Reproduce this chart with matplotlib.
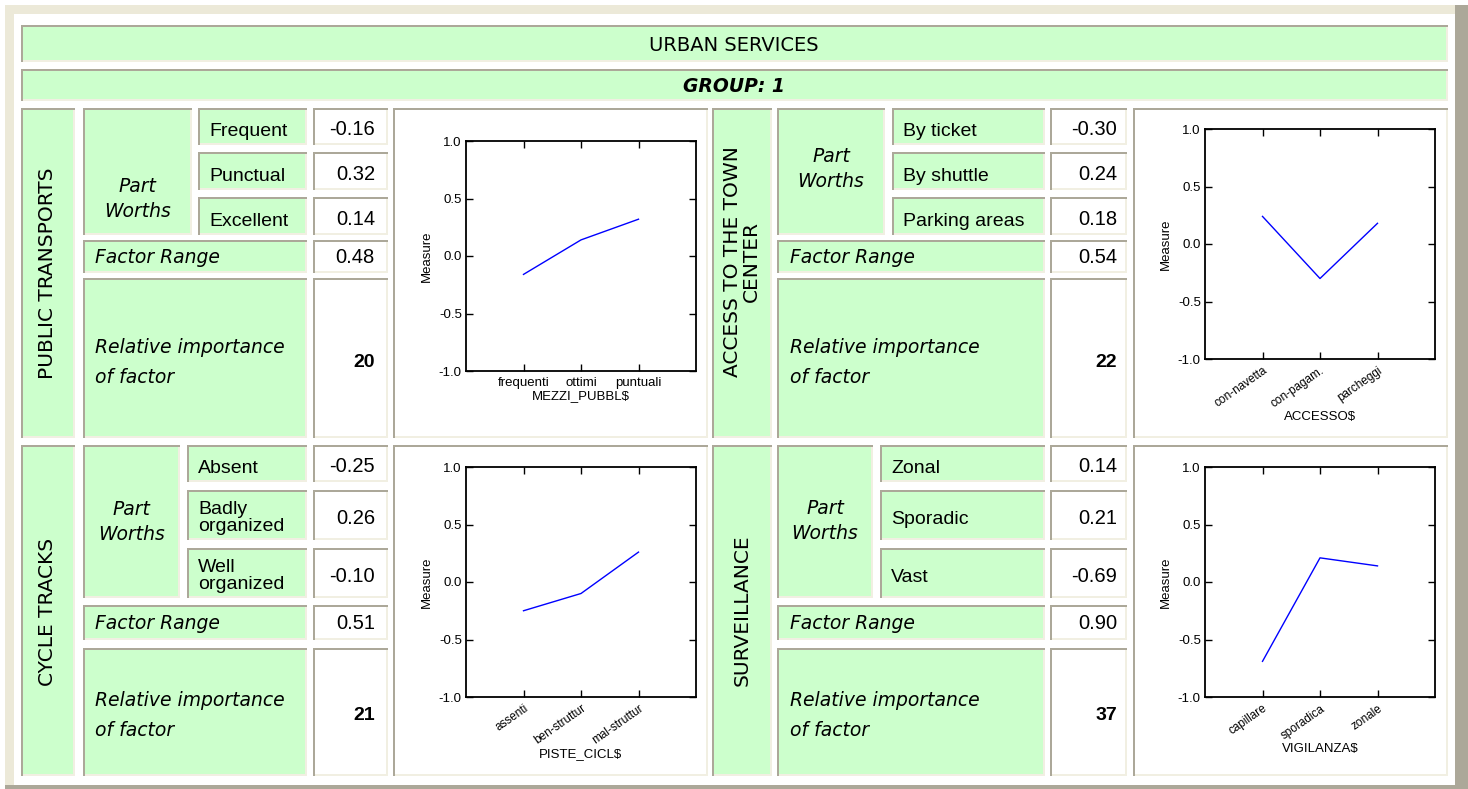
import matplotlib
matplotlib.use("Agg")
import matplotlib.pyplot as plt
from matplotlib.patches import Rectangle
from matplotlib.ticker import FormatStrFormatter

plt.rcParams['axes.unicode_minus'] = False

# ---------------- data ----------------
title = "URBAN SERVICES"
group = "GROUP: 1"
factors = ["PUBLIC TRANSPORTS", "ACCESS TO THE TOWN\nCENTER", "CYCLE TRACKS", "SURVEILLANCE"]
level_labels = [["Frequent", "Punctual", "Excellent"],
                ["By ticket", "By shuttle", "Parking areas"],
                ["Absent", "Badly\norganized", "Well\norganized"],
                ["Zonal", "Sporadic", "Vast"]]
part_worths = [[-0.16, 0.32, 0.14],
               [-0.30, 0.24, 0.18],
               [-0.25, 0.26, -0.10],
               [0.14, 0.21, -0.69]]
factor_range = [0.48, 0.54, 0.51, 0.90]
rel_importance = [20, 22, 21, 37]
chart_var = ["MEZZI_PUBBL$", "ACCESSO$", "PISTE_CICL$", "VIGILANZA$"]
chart_cats = [["frequenti", "ottimi", "puntuali"],
              ["con-navetta", "con-pagam.", "parcheggi"],
              ["assenti", "ben-struttur", "mal-struttur"],
              ["capillare", "sporadica", "zonale"]]
chart_vals = [[-0.16, 0.14, 0.32],
              [0.24, -0.30, 0.18],
              [-0.25, -0.10, 0.26],
              [-0.69, 0.21, 0.14]]
yticks = [-1.0, -0.5, 0.0, 0.5, 1.0]

# ---------------- style ----------------
GREEN = '#CCFFCC'
GRAY = '#ACA899'
LIGHT = '#F1EFE2'
BEIGE = '#ECE9D8'
COMIC = 'DejaVu Sans'
ARIAL = 'Liberation Sans'

W, H = 1468, 789
fig = plt.figure(figsize=(W / 100, H / 100), dpi=100)
fig.patch.set_facecolor('white')
bg = fig.add_axes([0, 0, 1, 1])
bg.set_xlim(0, W)
bg.set_ylim(H, 0)
bg.axis('off')
PX = 0.72  # points per pixel


def rect(x0, y0, x1, y1, color):
    bg.add_patch(Rectangle((x0, y0), x1 - x0, y1 - y0, facecolor=color,
                           edgecolor='none', zorder=1))


def cell(x0, y0, x1, y1, fill=GREEN):
    rect(x0, y0, x1, y1, fill)
    kw = dict(lw=2 * PX, solid_capstyle='butt', zorder=2)
    bg.plot([x0, x1], [y1 - 1, y1 - 1], color=LIGHT, **kw)
    bg.plot([x1 - 1, x1 - 1], [y0, y1], color=LIGHT, **kw)
    bg.plot([x0, x1], [y0 + 1, y0 + 1], color=GRAY, **kw)
    bg.plot([x0 + 1, x0 + 1], [y0, y1], color=GRAY, **kw)


def txt(x, y, s, family=ARIAL, size=14, ha='left', **kw):
    bg.text(x, y, s, family=family, fontsize=size, ha=ha, va='center',
            zorder=3, **kw)


# outer frame
rect(5, 5, W, H, BEIGE)
rect(1455, 5, W, H, GRAY)
rect(5, 785, W, H, GRAY)
rect(14, 14, 1455, 785, 'white')

# header bars
cell(21, 25, 1448, 62)
txt(734, 45, title, family=COMIC, size=14, ha='center')
cell(21, 69, 1448, 101)
txt(734, 86, group, family=COMIC, size=13.5, ha='center',
    fontweight='bold', style='italic')

# layout of the four blocks
colsets = [dict(A=(21, 75), D=(313, 388), E=(393, 708), xl=95, xv=375, xa=48),
           dict(A=(712, 772), D=(1050, 1127), E=(1133, 1448), xl=790, xv=1117, xa=742)]
bc = {(0, 0): ((83, 192), (198, 307)), (0, 1): ((777, 885), (892, 1045)),
      (1, 0): ((83, 180), (187, 307)), (1, 1): ((777, 873), (880, 1045))}
rowsets = [dict(top=108, levels=[(108, 145), (152, 190), (197, 235)],
                fr=(240, 273), ri=(278, 438), bottom=438),
           dict(top=445, levels=[(445, 482), (490, 540), (548, 598)],
                fr=(605, 640), ri=(648, 776), bottom=776)]
pw_y = {(0, 0): 199, (0, 1): 169, (1, 0): 522, (1, 1): 521}
fac_y = {(0, 0): 273, (0, 1): 262, (1, 0): 612, (1, 1): 610}
chart_box = {(0, 0): (466, 141, 696, 371), (0, 1): (1205, 129, 1435, 359),
             (1, 0): (466, 467, 696, 697), (1, 1): (1205, 467, 1435, 697)}

for k in range(4):
    r, c = divmod(k, 2)
    cs, rs = colsets[c], rowsets[r]
    B, C = bc[(r, c)]
    top, bot = rs['top'], rs['bottom']
    # factor name (vertical)
    cell(cs['A'][0], top, cs['A'][1], bot)
    txt(cs['xa'], fac_y[(r, c)], factors[k], family=COMIC, size=14.5,
        ha='center', rotation=90, multialignment='center', linespacing=1.0)
    # part worths
    cell(B[0], top, B[1], rs['levels'][-1][1])
    txt((B[0] + B[1]) / 2, pw_y[(r, c)], "Part\nWorths", family=COMIC, size=13.5,
        ha='center', style='italic', multialignment='center', linespacing=1.45)
    for i, (y0, y1) in enumerate(rs['levels']):
        cell(C[0], y0, C[1], y1)
        lab = level_labels[k][i]
        off = 3 if '\n' in lab else 5
        txt(C[0] + 11, (y0 + y1) / 2 + off, lab, size=14, linespacing=1.0)
        cell(cs['D'][0], y0, cs['D'][1], y1, 'white')
        txt(cs['xv'], (y0 + y1) / 2 + 3, f"{part_worths[k][i]:.2f}", size=14.5,
            ha='right')
    # factor range
    y0, y1 = rs['fr']
    cell(B[0], y0, C[1], y1)
    txt(cs['xl'], (y0 + y1) / 2 + 1, "Factor Range", family=COMIC, size=13.5,
        style='italic')
    cell(cs['D'][0], y0, cs['D'][1], y1, 'white')
    txt(cs['xv'], (y0 + y1) / 2 + 1, f"{factor_range[k]:.2f}", size=14.5, ha='right')
    # relative importance
    y0, y1 = rs['ri']
    cell(B[0], y0, C[1], y1)
    ym = (y0 + y1) / 2 + 4
    txt(cs['xl'], ym - 15, "Relative importance", family=COMIC, size=13.5,
        style='italic')
    txt(cs['xl'], ym + 15, "of factor", family=COMIC, size=13.5, style='italic')
    cell(cs['D'][0], y0, cs['D'][1], y1, 'white')
    txt(cs['xv'], ym, f"{rel_importance[k]}", size=14, ha='right',
        fontweight='bold')
    # chart
    cell(cs['E'][0], top, cs['E'][1], bot, 'white')
    x0, y0, x1, y1 = chart_box[(r, c)]
    ax = fig.add_axes([x0 / W, 1 - y1 / H, (x1 - x0) / W, (y1 - y0) / H])
    xs = list(range(1, len(chart_vals[k]) + 1))
    ax.plot(xs, chart_vals[k], color='#0000FF', lw=1)
    ax.set_xlim(0, 4)
    ax.set_ylim(-1, 1)
    ax.set_yticks(yticks)
    ax.yaxis.set_major_formatter(FormatStrFormatter('%.1f'))
    ax.set_xticks(xs)
    if k == 0:
        ax.set_xticklabels(chart_cats[k], family=ARIAL, fontsize=9.5)
    else:
        ax.set_xticklabels(chart_cats[k], family=ARIAL, fontsize=8.5,
                           rotation=35, ha='right', rotation_mode='anchor')
    for lab in ax.get_yticklabels():
        lab.set_family(ARIAL)
    ax.tick_params(direction='in', top=True, right=True, length=5, width=1,
                   pad=3)
    ax.tick_params(axis='y', labelsize=9.5)
    ax.tick_params(axis='x', pad=4)
    for sp in ax.spines.values():
        sp.set_linewidth(1.3)
    ax.set_ylabel('Measure', family=ARIAL, fontsize=9.5, labelpad=4)
    ax.set_xlabel(chart_var[k], family=ARIAL, fontsize=9.5, labelpad=1)

fig.savefig('out.png', dpi=100)
